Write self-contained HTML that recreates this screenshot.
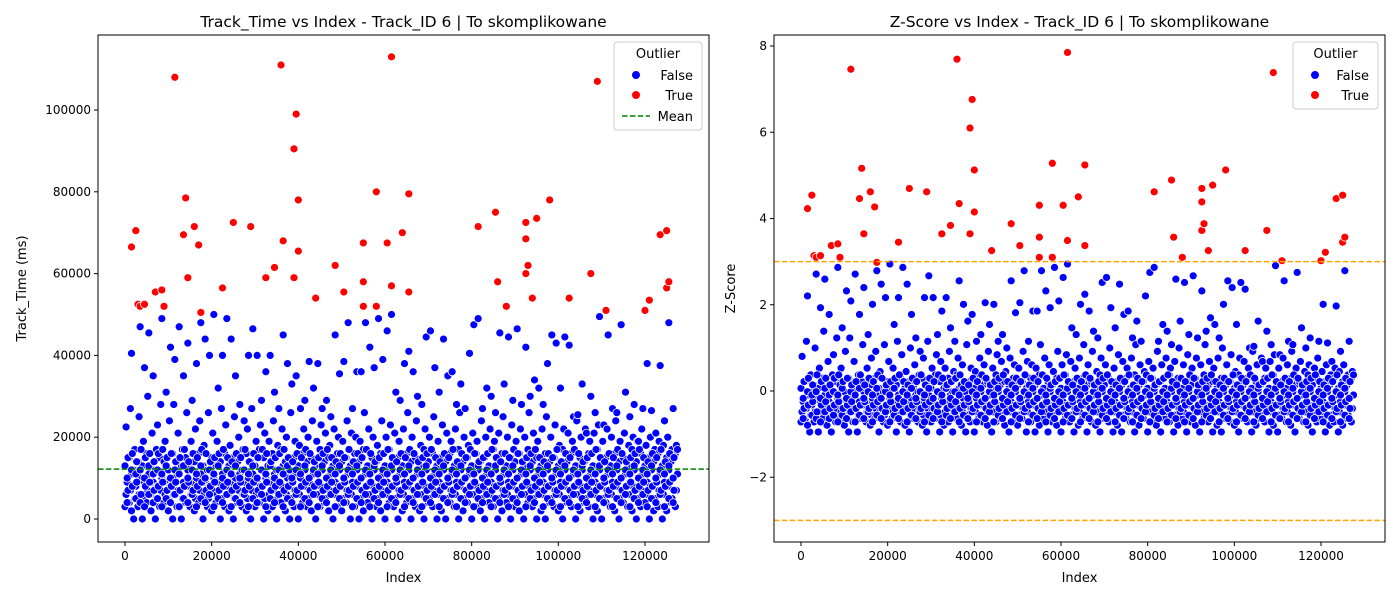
<!DOCTYPE html>
<html><head><meta charset="utf-8"><style>
body{margin:0;background:#fff;font-family:"Liberation Sans","DejaVu Sans",sans-serif}
svg text{font-family:"DejaVu Sans","Liberation Sans",sans-serif}
</style></head><body>
<svg id="chart" width="1400" height="600" xmlns="http://www.w3.org/2000/svg"></svg>
<script>
// Track_Time values in thousands of ms; outliers as [indexK, timeK]
const outlierPoints = [[1.5,66.5],[2.5,70.5],[3,52.5],[3.5,52],[4.5,52.5],[7,55.5],[8.5,56],[9,52],[11.5,108],[13.5,69.5],[14,78.5],[14.5,59],[16,71.5],[17,67],[17.5,50.5],[22.5,56.5],[25,72.5],[29,71.5],[32.5,59],[34.5,61.5],[36,111],[36.5,68],[39,59],[39,90.5],[39.5,99],[40,78],[40,65.5],[44,54],[48.5,62],[50.5,55.5],[55,58],[55,67.5],[55,52],[58,80],[58,52],[60.5,67.5],[61.5,113],[61.5,57],[64,70],[65.5,79.5],[65.5,55.5],[81.5,71.5],[85.5,75],[86,58],[88,52],[92.5,72.5],[92.5,68.5],[92.5,60],[93,62],[94,54],[95,73.5],[98,78],[102.5,54],[107.5,60],[109,107],[111,51],[120,51],[121,53.5],[123.5,69.5],[125,70.5],[125,56.5],[125.5,58]];
// normal points: each row = [indexK, list of timeK]
const normalRows = [
[0,[3,6,9,13,22.5]],[1,[4,7,11,15,27,40.5]],[2,[0,5,8,12,17]],[3,[3,6,10,14,25,47]],[4,[0,5,9,13,19,37]],[5,[4,7,11,16,30,45.5]],[6,[2,6,9,13,21,35]],[7,[0,5,8,12,17,23]],[8,[3,7,10,15,28,49]],[9,[4,6,9,14,19,31]],
[10,[2,5,8,12,24,42]],[11,[0,6,10,16,28,39]],[12,[3,7,11,14,21,47]],[13,[0,5,9,13,17,35]],[14,[4,8,12,15,26,43]],[15,[3,6,9,13,19,29]],[16,[2,5,10,14,22,38]],[17,[4,7,11,16,24,48]],[18,[0,6,9,13,18,44]],[19,[3,5,8,12,26,40]],
[20,[2,7,10,15,21,50]],[21,[4,6,9,13,19,32]],[22,[0,5,11,14,27,40]],[23,[3,8,12,16,23,49]],[24,[2,6,9,13,18,44]],[25,[0,5,10,15,25,35]],[26,[4,7,11,14,20,28]],[27,[3,6,9,12,17,24]],[28,[2,5,10,16,22,40]],[29,[0,7,11,14,27,46.5]],
[30,[3,6,9,13,19,40]],[31,[4,8,12,17,23,29]],[32,[0,5,10,15,21,36]],[33,[2,6,9,13,19,40]],[34,[3,7,11,16,24,31]],[35,[0,5,9,12,18,27]],[36,[4,8,13,17,22,45]],[37,[2,6,10,14,20,38]],[38,[0,5,9,12,26,33]],[39,[3,7,11,15,19,35]],
[40,[0,6,10,13,18,27]],[41,[4,8,12,16,22,29]],[42,[3,5,9,14,20,38.5]],[43,[2,7,11,15,24,32]],[44,[0,6,9,13,19,38]],[45,[3,8,12,17,23,27]],[46,[4,5,10,14,21,29]],[47,[2,7,11,15,18,25]],[48,[0,6,9,13,22,45]],[49,[3,8,12,16,20,35.5]],
[50,[2,5,10,14,19,38.5]],[51,[4,7,11,15,24,48]],[52,[0,6,9,13,21,27]],[53,[3,8,12,16,20,36]],[54,[0,5,10,14,19,36]],[55,[2,7,11,17,26,48]],[56,[4,6,9,13,22,42]],[57,[0,8,12,15,20,37]],[58,[3,5,10,14,18,49]],[59,[2,7,11,16,24,39]],
[60,[0,6,9,13,20,46]],[61,[4,8,12,17,23,50]],[62,[3,5,10,14,21,31]],[63,[0,7,11,15,19,29]],[64,[2,6,9,13,22,38]],[65,[4,8,12,16,26,41]],[66,[0,5,10,14,20,36]],[67,[3,7,11,15,24,30]],[68,[2,6,9,13,18,28]],[69,[0,8,12,17,22,44.5]],
[70,[4,5,10,14,20,46]],[71,[3,7,11,16,25,37]],[72,[0,6,9,13,19,31]],[73,[2,8,12,15,23,44]],[74,[0,5,10,14,21,35]],[75,[4,7,11,16,19,36]],[76,[3,6,9,13,22,28]],[77,[0,8,12,17,26,33]],[78,[2,5,10,14,20,27]],[79,[4,7,11,15,18,40.5]],
[80,[0,6,9,13,21,47.5]],[81,[3,8,12,16,19,49]],[82,[2,5,10,14,24,27]],[83,[0,7,11,15,20,32]],[84,[4,6,9,13,22,30]],[85,[3,8,12,17,19,26]],[86,[0,5,10,14,21,45.5]],[87,[2,7,11,16,25,33]],[88,[4,6,9,13,20,44.5]],[89,[0,8,12,15,23,29]],
[90,[3,5,10,14,19,46.5]],[91,[2,7,11,16,22,28]],[92,[0,6,9,13,20,42]],[93,[4,8,12,17,26,30]],[94,[3,5,10,14,21,34]],[95,[0,7,11,15,19,32]],[96,[2,6,9,13,22,28]],[97,[0,8,12,16,25,38]],[98,[4,5,10,14,20,45]],[99,[3,7,11,15,23,43]],
[100,[2,6,9,13,18,32]],[101,[0,8,12,17,22,44.5]],[102,[4,5,10,14,21,42.5]],[103,[3,7,11,16,19,25]],[104,[0,6,9,13,24,25.5]],[105,[2,8,12,15,20,33]],[106,[4,5,10,14,22,21]],[107,[3,7,11,16,19,30]],[108,[0,6,9,13,21,26]],[109,[2,8,12,17,23,49.5]],
[110,[0,5,10,14,19,23]],[111,[4,7,11,15,22,45]],[112,[3,6,9,13,20,27]],[113,[2,8,12,16,24,26]],[114,[0,5,10,14,19,47.5]],[115,[4,7,11,15,21,31]],[116,[3,6,9,13,18,25]],[117,[2,8,12,17,20,28]],[118,[0,5,10,14,19,19]],[119,[3,7,11,16,22,27]],
[120,[4,6,9,13,18,38]],[121,[0,8,12,15,20,26.5]],[122,[2,5,10,14,17,21]],[123,[3,7,11,16,19,37.5]],[124,[0,6,9,13,18,24]],[125,[2,8,12,15,20,48]],[126,[4,5,10,14,17,27]],[127,[3,7,11,16,18,17]]
];
// extra dense-band points, row k placed at index (k + 0.5)K
const denseBand = [
[4,7,10,15],[2,8,12,16],[5,9,11,14],[4,6,12,17],[3,8,10,15],[6,9,13,16],[4,7,11,14],[5,8,12,16],[3,9,11,17],[5,7,13,15],
[4,8,10,16],[6,9,12,14],[3,7,11,15],[5,8,13,17],[4,9,10,14],[6,7,12,16],[3,8,11,15],[5,9,13,17],[4,7,10,16],[6,8,12,14],
[3,9,11,15],[5,7,13,16],[4,8,10,17],[6,9,12,15],[3,7,11,14],[5,8,13,16],[4,9,10,15],[6,7,12,17],[3,8,11,14],[5,9,13,16],
[4,7,10,15],[6,8,12,17],[3,9,11,16],[5,7,13,14],[4,8,10,15],[6,9,12,16],[3,7,11,17],[5,8,13,15],[4,9,10,14],[6,7,12,16],
[3,8,11,15],[5,9,13,17],[4,7,10,16],[6,8,12,14],[3,9,11,15],[5,7,13,16],[4,8,10,17],[6,9,12,15],[3,7,11,14],[5,8,13,16],
[4,9,10,15],[6,7,12,17],[3,8,11,14],[5,9,13,16],[4,7,10,15],[6,8,12,17],[3,9,11,16],[5,7,13,14],[4,8,10,15],[6,9,12,16],
[3,7,11,17],[5,8,13,15],[4,9,10,14],[6,7,12,16],[3,8,11,15],[5,9,13,17],[4,7,10,16],[6,8,12,14],[3,9,11,15],[5,7,13,16],
[4,8,10,17],[6,9,12,15],[3,7,11,14],[5,8,13,16],[4,9,10,15],[6,7,12,17],[3,8,11,14],[5,9,13,16],[4,7,10,15],[6,8,12,17],
[3,9,11,16],[5,7,13,14],[4,8,10,15],[6,9,12,16],[3,7,11,17],[5,8,13,15],[4,9,10,14],[6,7,12,16],[3,8,11,15],[5,9,13,17],
[4,7,10,16],[6,8,12,14],[3,9,11,15],[5,7,13,16],[4,8,10,17],[6,9,12,15],[3,7,11,14],[5,8,13,16],[4,9,10,15],[6,7,12,17],
[3,8,11,14],[5,9,13,16],[4,7,10,15],[6,8,12,17],[3,9,11,16],[5,7,13,14],[4,8,10,15],[6,9,12,16],[3,7,11,17],[5,8,13,15],
[4,9,10,14],[6,7,12,16],[3,8,11,15],[5,9,13,17],[4,7,10,16],[6,8,12,14],[3,9,11,15],[5,7,13,16],[4,8,10,17],[6,9,12,15],
[3,7,11,14],[5,8,13,16],[4,9,10,15],[6,7,12,17],[3,8,11,14],[5,9,13,16],[4,7,10,15]
];
const xTicks = [0,20000,40000,60000,80000,100000,120000];
const yTicksLeft = [0,20000,40000,60000,80000,100000];
const yTicksRight = [-2,0,2,4,6,8];
const meanTime = 12200;
const stdTime = 12840;
const zLimits = [3,-3];

const NS="http://www.w3.org/2000/svg";
const svg=document.getElementById('chart');
function el(tag,attrs,parent){const e=document.createElementNS(NS,tag);for(const k in attrs)e.setAttribute(k,attrs[k]);(parent||svg).appendChild(e);return e;}
function lin(d0,d1,r0,r1){return v=>r0+(v-d0)*(r1-r0)/(d1-d0);}

const panels=[
 {name:'track-time',L:98,R:709,T:35,B:542,x:lin(0,120000,125,645),y:lin(0,100000,519,110),yt:yTicksLeft,val:t=>t,title:'Track_Time vs Index - Track_ID 6 | To skomplikowane',ylab:'Track_Time (ms)'},
 {name:'z-score',L:774,R:1385,T:35,B:542,x:lin(0,120000,801,1321),y:lin(0,8,391,46),yt:yTicksRight,val:t=>(t-meanTime)/stdTime,title:'Z-Score vs Index - Track_ID 6 | To skomplikowane',ylab:'Z-Score'}
];
panels.forEach((p,pi)=>{
 const g=el('g',{});
 
 
 const clip=el('clipPath',{id:'c'+pi},g);el('rect',{x:p.L,y:p.T,width:p.R-p.L,height:p.B-p.T},clip);
 const pts=el('g',{'clip-path':'url(#c'+pi+')'},g);
 
 
 const dot=(xv,tv,col)=>el('circle',{cx:p.x(xv),cy:p.y(p.val(tv)),r:4,fill:col,stroke:'#fff','stroke-width':0.8},pts);
 normalRows.forEach(r=>r[1].forEach((v,i)=>{
  const c=dot(r[0]*1000+(i%3)*250,v*1000,'#0000ff');
  
  
 }));
 denseBand.forEach((row,k)=>row.forEach((v,i)=>{
  const c=dot((k+0.5)*1000+(i%2)*200,v*1000,'#0000ff');
  
  
 }));
 outlierPoints.forEach(o=>{
  const c=dot(o[0]*1000,o[1]*1000,'#ff0000');
  
  
 });
 if(pi===0){
  const m=el('line',{x1:p.L,x2:p.R,y1:p.y(meanTime),y2:p.y(meanTime),stroke:'#008000','stroke-width':1.5,'stroke-dasharray':'5.5,2.4'},g);
  
  
 } else {
  zLimits.forEach(z=>{
   const m=el('line',{x1:p.L,x2:p.R,y1:p.y(z),y2:p.y(z),stroke:'#ffa500','stroke-width':1.5,'stroke-dasharray':'5.5,2.4'},g);
   
   
  });
 }
 const fr=el('rect',{x:p.L,y:p.T,width:p.R-p.L,height:p.B-p.T,fill:'none',stroke:'#000','stroke-width':1},g);
 
 
 xTicks.forEach(t=>{
  const X=p.x(t);el('line',{x1:X,x2:X,y1:p.B,y2:p.B+4,stroke:'#000'},g);
  const tx=el('text',{x:X,y:p.B+18,'text-anchor':'middle','font-size':12},g);tx.textContent=t;
  
  
 });
 p.yt.forEach(t=>{
  const Y=p.y(t);el('line',{x1:p.L-4,x2:p.L,y1:Y,y2:Y,stroke:'#000'},g);
  const tx=el('text',{x:p.L-7,y:Y+4,'text-anchor':'end','font-size':12},g);tx.textContent=t<0?'\u2212'+(-t):t;
  
  
 });
 const ti=el('text',{x:(p.L+p.R)/2,y:27,'text-anchor':'middle','font-size':15.5},g);ti.textContent=p.title;
 
 
 const xl=el('text',{x:(p.L+p.R)/2,y:582,'text-anchor':'middle','font-size':13},g);xl.textContent='Index';
 
 
 const yx=pi===0?26:735;
 const yl=el('text',{x:yx,y:(p.T+p.B)/2,'text-anchor':'middle','font-size':13,transform:`rotate(-90 ${yx} ${(p.T+p.B)/2})`},g);yl.textContent=p.ylab;
 
 
 const lx=pi===0?614:1293, lw=pi===0?88:85, lh=pi===0?88:67;
 const lg=el('g',{},g);
 
 
 el('rect',{x:lx,y:42,width:lw,height:lh,rx:3,fill:'#fff','fill-opacity':0.8,stroke:'#ccc'},lg);
 const lt=el('text',{x:lx+lw/2,y:58,'text-anchor':'middle','font-size':13},lg);lt.textContent='Outlier';
 const items=[['False','#0000ff'],['True','#ff0000']];
 items.forEach((it,i)=>{
  const Y=75+i*20;
  el('circle',{cx:lx+22,cy:Y,r:4.5,fill:it[1],stroke:'#fff'},lg);
  const t=el('text',{x:lx+lw-9,y:Y+5,'text-anchor':'end','font-size':13},lg);t.textContent=it[0];
  
  
 });
 if(pi===0){
  el('line',{x1:lx+8,x2:lx+36,y1:116,y2:116,stroke:'#008000','stroke-width':1.5,'stroke-dasharray':'5.5,2.4'},lg);
  const t=el('text',{x:lx+lw-9,y:121,'text-anchor':'end','font-size':13},lg);t.textContent='Mean';
  
  
 }
});
</script>
</body></html>
